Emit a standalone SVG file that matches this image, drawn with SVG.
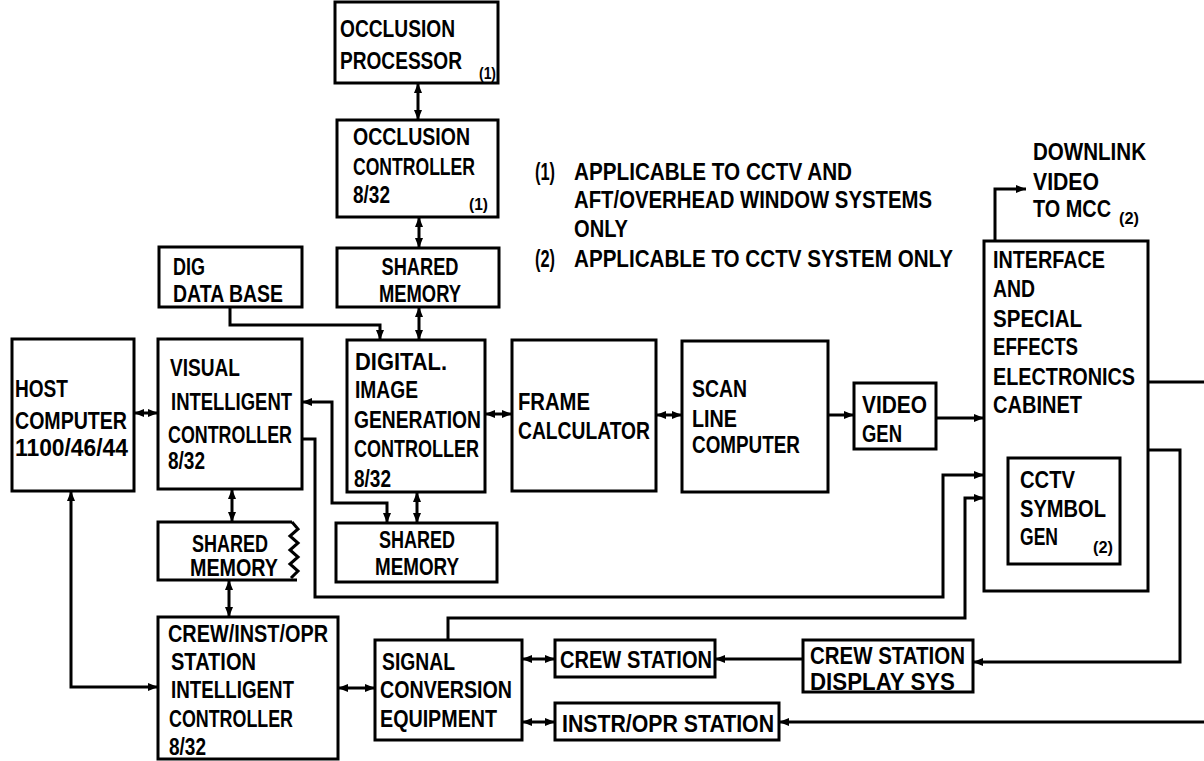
<svg xmlns="http://www.w3.org/2000/svg" width="1204" height="761" viewBox="0 0 1204 761">
<defs>
<style>
.box{fill:#fff;stroke:#000;stroke-width:3}
.ln{fill:none;stroke:#000;stroke-width:3}
text{font-family:"Liberation Sans",Arial,sans-serif;font-weight:bold;font-size:24px;fill:#000}
.sm{font-size:16px}
.c{text-anchor:middle}
.one{marker-end:url(#ah)}
.two{marker-start:url(#ah);marker-end:url(#ah)}
</style>
<marker id="ah" viewBox="0 0 10 8" refX="10" refY="4" markerWidth="10" markerHeight="8" markerUnits="userSpaceOnUse" orient="auto-start-reverse">
<path d="M0,0 L10,4 L0,8 Z" fill="#000"/>
</marker>
</defs>
<rect width="1204" height="761" fill="#fff"/>

<g id="connectors">
<path class="ln two" d="M418,83 V120"/>
<path class="ln two" d="M419,217 V248"/>
<path class="ln two" d="M419,307 V340"/>
<path class="ln one" d="M230,307 V325 H380 V340"/>
<path class="ln two" d="M134,413 H158"/>
<path class="ln two" d="M302,402 H332 V503 H387 V523"/>
<path class="ln two" d="M417,492 V523"/>
<path class="ln two" d="M485,414 H512"/>
<path class="ln two" d="M656,415 H682"/>
<path class="ln one" d="M828,415 H854"/>
<path class="ln one" d="M936,418 H984"/>
<path class="ln one" d="M995,241 V189 H1026"/>
<path class="ln" d="M1148,382 H1204"/>
<path class="ln one" d="M1148,450 H1180 V662 H973"/>
<path class="ln one" d="M1204,722 H779"/>
<path class="ln one" d="M803,659 H715"/>
<path class="ln two" d="M522,659 H555"/>
<path class="ln two" d="M522,722 H555"/>
<path class="ln two" d="M338,688 H375"/>
<path class="ln two" d="M71,491 V687 H158"/>
<path class="ln two" d="M232,489 V522"/>
<path class="ln two" d="M229,580 V617"/>
<path class="ln one" d="M302,439 H315 V597 H943 V475 H984"/>
<path class="ln one" d="M448,640 V618 H965 V498 H984"/>
</g>

<g id="occlusion-processor">
<rect class="box" x="335" y="2" width="163" height="81"/>
<text x="340" y="37" textLength="115" lengthAdjust="spacingAndGlyphs">OCCLUSION</text>
<text x="340" y="69" textLength="122" lengthAdjust="spacingAndGlyphs">PROCESSOR</text>
<text class="sm" x="479" y="79" textLength="17" lengthAdjust="spacingAndGlyphs">(1)</text>
</g>

<g id="occlusion-controller">
<rect class="box" x="337" y="120" width="161" height="97"/>
<text x="353" y="145" textLength="117" lengthAdjust="spacingAndGlyphs">OCCLUSION</text>
<text x="353" y="175" textLength="122" lengthAdjust="spacingAndGlyphs">CONTROLLER</text>
<text x="353" y="203" textLength="37" lengthAdjust="spacingAndGlyphs">8/32</text>
<text class="sm" x="469" y="210" textLength="19" lengthAdjust="spacingAndGlyphs">(1)</text>
</g>

<g id="shared-memory-top">
<rect class="box" x="337" y="248" width="162" height="59"/>
<text class="c" x="420" y="275" textLength="77" lengthAdjust="spacingAndGlyphs">SHARED</text>
<text class="c" x="420" y="302" textLength="82" lengthAdjust="spacingAndGlyphs">MEMORY</text>
</g>

<g id="notes">
<text x="535" y="180" textLength="20" lengthAdjust="spacingAndGlyphs">(1)</text>
<text x="574" y="180" textLength="278" lengthAdjust="spacingAndGlyphs">APPLICABLE TO CCTV AND</text>
<text x="574" y="208" textLength="358" lengthAdjust="spacingAndGlyphs">AFT/OVERHEAD WINDOW SYSTEMS</text>
<text x="574" y="237" textLength="54" lengthAdjust="spacingAndGlyphs">ONLY</text>
<text x="535" y="267" textLength="20" lengthAdjust="spacingAndGlyphs">(2)</text>
<text x="574" y="267" textLength="379" lengthAdjust="spacingAndGlyphs">APPLICABLE TO CCTV SYSTEM ONLY</text>
</g>

<g id="downlink-label">
<text x="1033" y="160" textLength="113" lengthAdjust="spacingAndGlyphs">DOWNLINK</text>
<text x="1033" y="190" textLength="66" lengthAdjust="spacingAndGlyphs">VIDEO</text>
<text x="1033" y="217" textLength="78" lengthAdjust="spacingAndGlyphs">TO MCC</text>
<text class="sm" x="1119" y="224" textLength="20" lengthAdjust="spacingAndGlyphs">(2)</text>
</g>

<g id="dig-data-base">
<rect class="box" x="159" y="247" width="143" height="60"/>
<text x="173" y="275" textLength="32" lengthAdjust="spacingAndGlyphs">DIG</text>
<text x="173" y="302" textLength="110" lengthAdjust="spacingAndGlyphs">DATA BASE</text>
</g>

<g id="host-computer">
<rect class="box" x="12" y="339" width="122" height="152"/>
<text x="15" y="397" textLength="53" lengthAdjust="spacingAndGlyphs">HOST</text>
<text x="15" y="429" textLength="112" lengthAdjust="spacingAndGlyphs">COMPUTER</text>
<text x="15" y="456" textLength="113" lengthAdjust="spacingAndGlyphs">1100/46/44</text>
</g>

<g id="visual-intelligent-controller">
<rect class="box" x="158" y="339" width="144" height="150"/>
<text x="170" y="376" textLength="70" lengthAdjust="spacingAndGlyphs">VISUAL</text>
<text x="171" y="410" textLength="121" lengthAdjust="spacingAndGlyphs">INTELLIGENT</text>
<text x="168" y="443" textLength="124" lengthAdjust="spacingAndGlyphs">CONTROLLER</text>
<text x="168" y="469" textLength="37" lengthAdjust="spacingAndGlyphs">8/32</text>
</g>

<g id="digital-image-generation-controller">
<rect class="box" x="347" y="340" width="138" height="152"/>
<text x="355" y="370" textLength="92" lengthAdjust="spacingAndGlyphs">DIGITAL.</text>
<text x="355" y="398" textLength="63" lengthAdjust="spacingAndGlyphs">IMAGE</text>
<text x="354" y="428" textLength="127" lengthAdjust="spacingAndGlyphs">GENERATION</text>
<text x="354" y="457" textLength="125" lengthAdjust="spacingAndGlyphs">CONTROLLER</text>
<text x="354" y="487" textLength="37" lengthAdjust="spacingAndGlyphs">8/32</text>
</g>

<g id="frame-calculator">
<rect class="box" x="512" y="340" width="144" height="151"/>
<text x="518" y="410" textLength="72" lengthAdjust="spacingAndGlyphs">FRAME</text>
<text x="518" y="439" textLength="132" lengthAdjust="spacingAndGlyphs">CALCULATOR</text>
</g>

<g id="scan-line-computer">
<rect class="box" x="682" y="341" width="146" height="151"/>
<text x="692" y="397" textLength="55" lengthAdjust="spacingAndGlyphs">SCAN</text>
<text x="692" y="427" textLength="45" lengthAdjust="spacingAndGlyphs">LINE</text>
<text x="692" y="453" textLength="108" lengthAdjust="spacingAndGlyphs">COMPUTER</text>
</g>

<g id="video-gen">
<rect class="box" x="854" y="383" width="82" height="66"/>
<text x="862" y="413" textLength="65" lengthAdjust="spacingAndGlyphs">VIDEO</text>
<text x="862" y="442" textLength="40" lengthAdjust="spacingAndGlyphs">GEN</text>
</g>

<g id="interface-cabinet">
<rect class="box" x="984" y="241" width="164" height="350"/>
<text x="993" y="268" textLength="112" lengthAdjust="spacingAndGlyphs">INTERFACE</text>
<text x="993" y="297" textLength="42" lengthAdjust="spacingAndGlyphs">AND</text>
<text x="993" y="327" textLength="89" lengthAdjust="spacingAndGlyphs">SPECIAL</text>
<text x="993" y="355" textLength="85" lengthAdjust="spacingAndGlyphs">EFFECTS</text>
<text x="993" y="385" textLength="142" lengthAdjust="spacingAndGlyphs">ELECTRONICS</text>
<text x="993" y="413" textLength="89" lengthAdjust="spacingAndGlyphs">CABINET</text>
</g>

<g id="cctv-symbol-gen">
<rect class="box" x="1008" y="458" width="112" height="106"/>
<text x="1020" y="488" textLength="55" lengthAdjust="spacingAndGlyphs">CCTV</text>
<text x="1020" y="517" textLength="86" lengthAdjust="spacingAndGlyphs">SYMBOL</text>
<text x="1020" y="545" textLength="38" lengthAdjust="spacingAndGlyphs">GEN</text>
<text class="sm" x="1093" y="553" textLength="20" lengthAdjust="spacingAndGlyphs">(2)</text>
</g>

<g id="shared-memory-left">
<path class="ln" d="M292,522 H158 V580 H297"/>
<polyline class="ln" points="292,522 298,529 290,536 298,543 290,550 298,557 290,564 298,571 291,578"/>
<text x="192" y="552" textLength="76" lengthAdjust="spacingAndGlyphs">SHARED</text>
<text x="190" y="576" textLength="88" lengthAdjust="spacingAndGlyphs">MEMORY</text>
</g>

<g id="shared-memory-middle">
<rect class="box" x="336" y="523" width="161" height="59"/>
<text class="c" x="417" y="548" textLength="76" lengthAdjust="spacingAndGlyphs">SHARED</text>
<text class="c" x="417" y="575" textLength="84" lengthAdjust="spacingAndGlyphs">MEMORY</text>
</g>

<g id="crew-inst-opr-controller">
<rect class="box" x="158" y="617" width="180" height="142"/>
<text x="168" y="642" textLength="160" lengthAdjust="spacingAndGlyphs">CREW/INST/OPR</text>
<text x="171" y="670" textLength="85" lengthAdjust="spacingAndGlyphs">STATION</text>
<text x="171" y="698" textLength="123" lengthAdjust="spacingAndGlyphs">INTELLIGENT</text>
<text x="169" y="727" textLength="124" lengthAdjust="spacingAndGlyphs">CONTROLLER</text>
<text x="169" y="755" textLength="37" lengthAdjust="spacingAndGlyphs">8/32</text>
</g>

<g id="signal-conversion-equipment">
<rect class="box" x="375" y="640" width="147" height="100"/>
<text x="382" y="670" textLength="73" lengthAdjust="spacingAndGlyphs">SIGNAL</text>
<text x="380" y="698" textLength="132" lengthAdjust="spacingAndGlyphs">CONVERSION</text>
<text x="380" y="727" textLength="117" lengthAdjust="spacingAndGlyphs">EQUIPMENT</text>
</g>

<g id="crew-station">
<rect class="box" x="555" y="640" width="160" height="37"/>
<text x="560" y="668" textLength="152" lengthAdjust="spacingAndGlyphs">CREW STATION</text>
</g>

<g id="instr-opr-station">
<rect class="box" x="555" y="703" width="224" height="37"/>
<text x="562" y="732" textLength="212" lengthAdjust="spacingAndGlyphs">INSTR/OPR STATION</text>
</g>

<g id="crew-station-display-sys">
<rect class="box" x="803" y="640" width="170" height="52"/>
<text x="810" y="664" textLength="155" lengthAdjust="spacingAndGlyphs">CREW STATION</text>
<text x="810" y="690" textLength="145" lengthAdjust="spacingAndGlyphs">DISPLAY SYS</text>
</g>
</svg>
